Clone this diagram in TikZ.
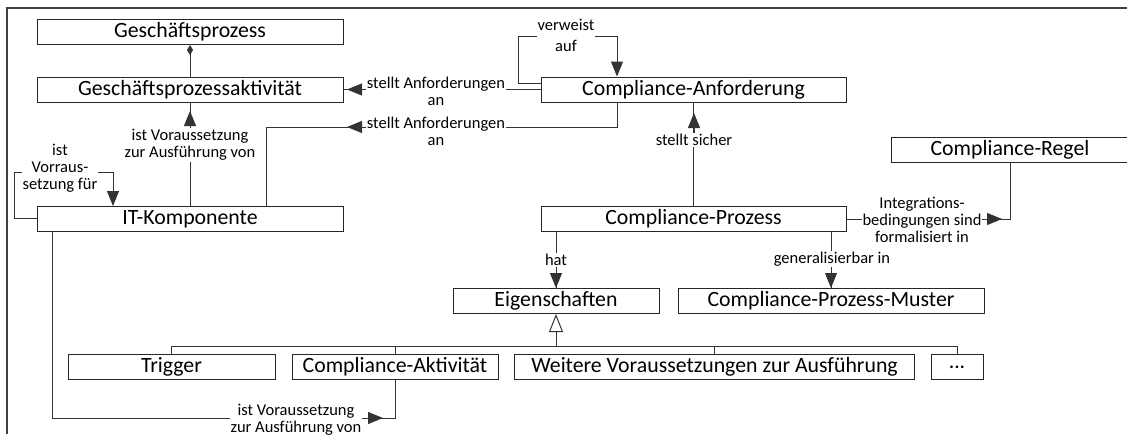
\documentclass[tikz,border=0pt]{standalone}
\usepackage{fontspec}
\setmainfont{Carlito}
\usetikzlibrary{arrows.meta}
\begin{document}
\begin{tikzpicture}[x=1pt,y=-1pt,
  every node/.style={font=\fontsize{16.5}{17}\selectfont},
  box/.style={draw=black!85, line width=1pt, fill=white, inner sep=0pt,
    minimum height=25pt, font=\fontsize{21.8}{26}\selectfont},
  lbl/.style={fill=white, inner sep=1pt, align=center},
  conn/.style={draw=black!80, line width=1pt},
  head/.style={conn, -{Triangle[length=15pt,width=12pt]}},
  gen/.style={conn, -{Triangle[length=18pt,width=14pt,fill=white]}},
  comp/.style={conn, {Diamond[length=10pt,width=6pt]}-},
  frame/.style={draw=black!75, line width=1.6pt}
]
\useasboundingbox (0,0) rectangle (1127,434);

% outer frame (top and left edges)
\draw[frame] (7,434) -- (7,8) -- (1127,8);

% classes
\node[box, minimum width=306pt] (gp)   at (190,32)    {Geschäftsprozess};
\node[box, minimum width=306pt] (gpa)  at (190,89.5)  {Geschäftsprozessaktivität};
\node[box, minimum width=305pt] (ca)   at (693.5,89.5){Compliance-Anforderung};
\node[box, minimum width=306pt] (it)   at (190,219)   {IT-Komponente};
\node[box, minimum width=238pt] (cr)   at (1010,150)  {Compliance-Regel};
\node[box, minimum width=305pt] (cp)   at (693.5,219) {Compliance-Prozess};
\node[box, minimum width=206pt] (eig)  at (556,301)   {Eigenschaften};
\node[box, minimum width=306pt] (cpm)  at (831,301)   {Compliance-Prozess-Muster};
\node[box, minimum width=207pt] (trig) at (171.5,367) {Trigger};
\node[box, minimum width=206pt] (cakt) at (395,367)   {Compliance-Aktivität};
\node[box, minimum width=400pt] (wv)   at (714.5,367) {Weitere Voraussetzungen zur Ausführung};
\node[box, minimum width=52pt]  (dots) at (957,367)   {...};

% route points
\coordinate (v1) at (518,83);
\coordinate (v2) at (518,36);
\coordinate (v3) at (617,36);
\coordinate (w1) at (14,218);
\coordinate (w2) at (14,172);
\coordinate (w3) at (113,172);
\coordinate (c2a) at (617,127);
\coordinate (c2b) at (266,127);
\coordinate (b1) at (52,418);
\coordinate (bus) at (171.5,346);

% connectors
\draw[comp] (gp.south) -- (gpa.north);
\draw[conn] (ca.west |- gpa.east) -- (gpa.east);
\draw[head] (ca.west |- v1) -- (v1) -- (v2) -- (v3) -- (ca.north -| v3);
\draw[conn] (ca.south -| c2a) -- (c2a) -- (c2b) -- (it.north -| c2b);
\draw[conn] (it.north) -- (gpa.south);
\draw[head] (it.west |- w1) -- (w1) -- (w2) -- (w3) -- (it.north -| w3);
\draw[conn] (cp.north) -- (ca.south);
\draw[conn] (cp.south -| eig.north) -- (eig.north);
\draw[conn] (cp.south -| cpm.north) -- (cpm.north);
\draw[conn] (cp.east) -- (cp.east -| cr.south) -- (cr.south);
\draw[conn] (it.south -| b1) -- (b1) -- (cakt.south |- b1) -- (cakt.south);

% generalisation bus
\draw[conn] (trig.north) -- (bus) -- (dots.north |- bus) -- (dots.north);
\draw[conn] (cakt.north) -- (cakt.north |- bus);
\draw[conn] (wv.north) -- (wv.north |- bus);
\draw[gen] (eig.south |- bus) -- (eig.south);

% labels
\node[lbl] (l1) at (436,91)    {stellt Anforderungen\\an};
\node[lbl] (l2) at (436,131.5) {stellt Anforderungen\\an};
\node[lbl, font=\fontsize{16.5}{21}\selectfont] (l3) at (566,35.5) {verweist\\auf};
\node[lbl] (l4) at (190,145)   {ist Voraussetzung\\zur Ausführung von};
\node[lbl] (l5) at (694,140)   {stellt sicher};
\node[lbl] (l6) at (556,260)   {hat};
\node[lbl] (l7) at (832,259)   {generalisierbar in};
\node[lbl] (l8) at (922,220)   {Integrations-\\bedingungen sind\\formalisiert in};
\node[lbl] (l9) at (296,420)   {ist Voraussetzung\\zur Ausführung von};
\node[lbl] (l10) at (60,168)   {ist\\Vorraus-\\setzung für};

% reading-direction arrowheads beside the labels
\coordinate (t1) at (347,89.5);
\coordinate (t2) at (347,127);
\coordinate (t4) at (190,111);
\coordinate (t5) at (694,113);
\coordinate (t8) at (1002,219);
\coordinate (t9) at (383,418);
\draw[head] (l1.west |- t1) -- (t1);
\draw[head] (l2.west |- t2) -- (t2);
\draw[head] (l4.north -| t4) -- (t4);
\draw[head] (l5.north -| t5) -- (t5);
\draw[head] (l6.south) -- (eig.north);
\draw[head] (l7.south -| cpm.north) -- (cpm.north);
\draw[head] (l8.east |- t8) -- (t8);
\draw[head] (l9.east |- t9) -- (t9);
\end{tikzpicture}
\end{document}
